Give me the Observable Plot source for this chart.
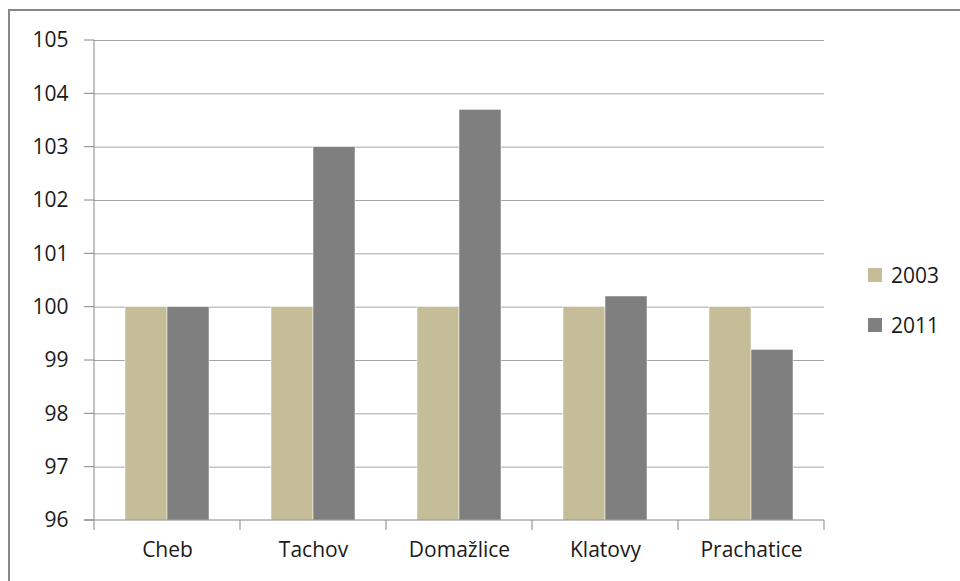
<!DOCTYPE html>
<html>
<head>
<meta charset="utf-8">
<script src="https://cdn.jsdelivr.net/npm/d3@7"></script>
<script src="https://cdn.jsdelivr.net/npm/@observablehq/plot@0.6"></script>
<style>
  html, body { margin: 0; padding: 0; background: #fff; overflow: hidden; }
  #wrap { position: relative; width: 960px; height: 581px; }
  #border { position: absolute; left: 8px; top: 9px; width: 2000px; height: 2000px; border: 2px solid #878787; box-sizing: border-box; }
  #chart { position: absolute; left: 0; top: 0; }
  #legend { position: absolute; left: 868px; top: 0; font-family: "Open Sans", sans-serif; font-size: 21px; color: #1a1a1a; }
  .item { position: absolute; left: 0; display: flex; align-items: center; white-space: nowrap; height: 24px; }
  .sw { width: 14px; height: 14px; margin-right: 9px; }
</style>
</head>
<body>
<div id="wrap">
  <div id="border"></div>
  <div id="chart"></div>
  <div id="legend"></div>
</div>
<script>
const categories = ["Cheb", "Tachov", "Domažlice", "Klatovy", "Prachatice"];
const years = ["2003", "2011"];
const values2003 = [100, 100, 100, 100, 100];
const values2011 = [100, 103.0, 103.7, 100.2, 99.2];
const yTicks = [96, 97, 98, 99, 100, 101, 102, 103, 104, 105];
const colors = ["#c4bd97", "#7f7f7f"];

const data = [];
categories.forEach((c, i) => {
  data.push({category: c, year: years[0], value: values2003[i]});
  data.push({category: c, year: years[1], value: values2011[i]});
});

// category boundary ticks, y axis line and x axis line, positioned from the library scales
const axisLines = (index, scales) => {
  const g = d3.create("svg:g").attr("stroke", "#868686").attr("stroke-width", 1).attr("fill", "none");
  const fx = scales.fx;
  const y0 = scales.y(yTicks[0]);
  const yTop = scales.y(yTicks[yTicks.length - 1]);
  const xs = categories.map(c => fx(c)).concat([fx(categories[categories.length - 1]) + fx.bandwidth()]);
  for (const x of xs) {
    g.append("line").attr("x1", x).attr("x2", x).attr("y1", y0).attr("y2", y0 + 10);
  }
  g.append("line").attr("x1", xs[0]).attr("x2", xs[0]).attr("y1", yTop).attr("y2", y0);
  g.append("line").attr("x1", xs[0] - 10).attr("x2", xs[xs.length - 1]).attr("y1", y0).attr("y2", y0);
  for (const t of yTicks) {
    g.append("line").attr("x1", xs[0] - 10).attr("x2", xs[0]).attr("y1", scales.y(t)).attr("y2", scales.y(t));
  }
  return g.node();
};

const chart = Plot.plot({
  width: 960,
  height: 581,
  marginLeft: 92,
  marginRight: 135,
  marginTop: 40,
  marginBottom: 61,
  style: {fontFamily: "'Open Sans', sans-serif", fontSize: "21px", color: "#1a1a1a", background: "transparent"},
  fx: {domain: categories, padding: 0, label: null},
  x: {domain: years, paddingInner: 0, paddingOuter: 0.7, axis: null},
  y: {domain: [96, 105], label: null},
  color: {domain: years, range: colors},
  marks: [
    Plot.ruleY(yTicks.slice(1), {stroke: "#a6a6a6", strokeWidth: 1, strokeOpacity: 1}),
    Plot.barY(data, {fx: "category", x: "year", y1: 96, y2: "value", fill: "year", stroke: "#ffffff", strokeWidth: 0.5}),
    Plot.axisY({ticks: yTicks, tickSize: 0, tickPadding: 26, tickFormat: d => String(d), label: null, fill: "#1a1a1a"}),
    Plot.axisFx({tickSize: 0, tickPadding: 22, label: null, fill: "#1a1a1a", anchor: "bottom"}),
    Plot.frame({facet: "super", stroke: "none", render: axisLines})
  ]
});
document.getElementById("chart").appendChild(chart);

const legend = document.getElementById("legend");
const legendY = [275, 325];
years.forEach((yr, i) => {
  const item = document.createElement("div");
  item.className = "item";
  item.style.top = (legendY[i] - 12) + "px";
  const sw = document.createElement("div");
  sw.className = "sw";
  sw.style.background = colors[i];
  const label = document.createElement("span");
  label.textContent = yr;
  item.appendChild(sw);
  item.appendChild(label);
  legend.appendChild(item);
});
</script>
</body>
</html>
